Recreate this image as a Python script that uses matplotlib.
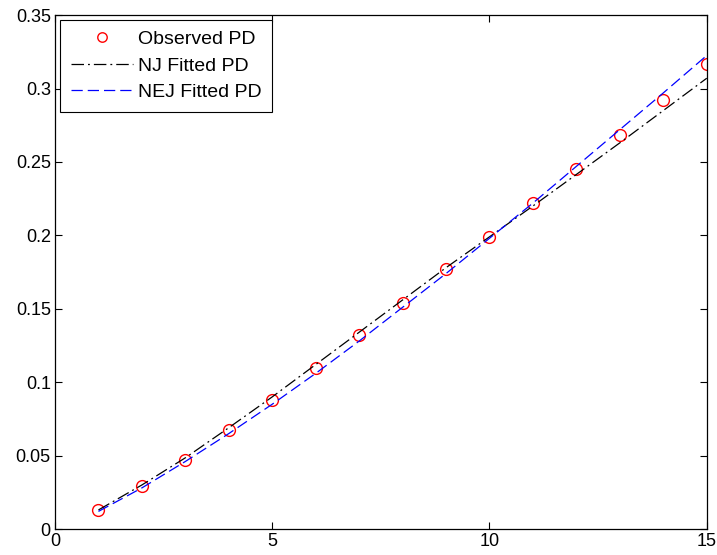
import numpy as np
import matplotlib
matplotlib.use("Agg")
import matplotlib.pyplot as plt
from matplotlib.ticker import FormatStrFormatter

plt.rcParams["font.family"] = ["Liberation Sans", "DejaVu Sans"]

# data
months = [1, 2, 3, 4, 5, 6, 7, 8, 9, 10, 11, 12, 13, 14, 15]
observed_pd = [0.0129, 0.0293, 0.0468, 0.0674, 0.0878, 0.1094, 0.1320, 0.1536,
               0.1768, 0.1990, 0.2219, 0.2451, 0.2682, 0.2925, 0.3165]
nj_fitted = [0.0130, 0.0300, 0.0485, 0.0690, 0.0900, 0.1120, 0.1340, 0.1560,
             0.1780, 0.1990, 0.2200, 0.2415, 0.2630, 0.2850, 0.3070]
nej_fitted = [0.0120, 0.0280, 0.0460, 0.0650, 0.0850, 0.1060, 0.1280, 0.1510,
              0.1740, 0.1980, 0.2220, 0.2470, 0.2720, 0.2970, 0.3225]

fig = plt.figure(figsize=(7.17, 5.55), dpi=100)
ax = fig.add_axes([0.0767, 0.0468, 0.909, 0.926])

ax.plot(months, observed_pd, linestyle="none", marker="o", markersize=8.5,
        markerfacecolor="none", markeredgecolor="red", markeredgewidth=1.0,
        label="Observed PD")
ax.plot(months, nj_fitted, color="black", linestyle="-.", linewidth=0.9,
        dashes=(10, 3.2, 1.5, 3.2), label="NJ Fitted PD")
ax.plot(months, nej_fitted, color="blue", linestyle="--", linewidth=0.9,
        dashes=(9, 4), label="NEJ Fitted PD")

ax.set_xlim(0, 15)
ax.set_ylim(0, 0.35)
ax.set_xticks([0, 5, 10, 15])
ax.set_yticks(np.arange(0, 0.351, 0.05))
ax.yaxis.set_major_formatter(FormatStrFormatter("%g"))
ax.tick_params(direction="in", top=True, right=True, length=5, width=0.8,
               labelsize=13, pad=3)
for s in ax.spines.values():
    s.set_linewidth(0.9)

leg = ax.legend(loc="upper left", fontsize=14, frameon=True, fancybox=False,
                edgecolor="black", framealpha=1, handlelength=3.2,
                handletextpad=0.26, borderpad=0.55, labelspacing=0.45,
                borderaxespad=0.25, markerscale=0.8)
leg.get_frame().set_linewidth(0.8)

fig.savefig("out.png", dpi=100)
